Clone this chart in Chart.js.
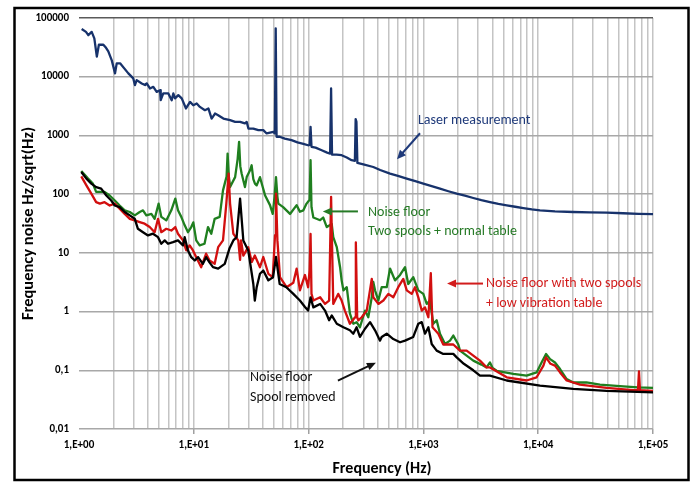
<!DOCTYPE html>
<html lang="en">
<head>
<meta charset="UTF-8">
<title>Frequency noise</title>
<style>
    body {
        margin: 0;
        background: #fff;
    }
    .chart-box {
        position: relative;
        width: 693px;
        height: 483px;
    }
</style>
</head>
<body>
<div class="chart-box"><canvas id="noiseChart"></canvas></div>

<script src="https://cdn.jsdelivr.net/npm/chart.js"></script>
<script>
    // Axis labels (Excel style, comma decimals)
    const xTickLabels = ['1,E+00', '1,E+01', '1,E+02', '1,E+03', '1,E+04', '1,E+05'];
    const yTickLabels = ['0,01', '0,1', '1', '10', '100', '1000', '10000', '100000'];

    // [frequency Hz, noise Hz/sqrt(Hz)]
    const laserData = [
        [1.055, 65000], [1.15, 58000], [1.205, 51000], [1.29, 58000], [1.36, 45000], [1.43, 22000], [1.49, 35000], [1.63, 35000], [1.72, 31000], [1.8, 27000],
        [1.93, 19000], [2.06, 11400], [2.13, 16900], [2.28, 16900], [2.69, 11400], [2.97, 9360], [3.07, 7200], [3.18, 8750], [3.52, 7690], [3.76, 7200],
        [3.89, 7690], [4.15, 6310], [4.44, 6730], [4.75, 5520], [5.08, 5900], [5.15, 3980], [5.42, 5190], [6.0, 5190], [6.42, 3980], [6.63, 5190],
        [6.86, 4270], [7.33, 4850], [7.85, 4270], [8.55, 2880], [9.27, 3730], [9.9, 3270], [10.6, 3500], [11.3, 3060], [12.5, 2690], [13.4, 2880],
        [14.3, 1940], [15.3, 2360], [16.3, 2210], [18.1, 1940], [20.7, 1820], [22.9, 1700], [25.3, 1700], [27.9, 1600], [28.9, 1700], [29.9, 1310],
        [33, 1310], [36.5, 1230], [40.3, 1230], [43.1, 1080], [49.3, 1150], [50.8, 1080], [51.7, 66700], [52.6, 950], [56, 950], [62, 880],
        [71, 830], [80, 760], [90, 720], [99, 680], [102, 690], [104, 1400], [106, 640], [115, 620], [130, 560], [145, 510],
        [154, 490], [157, 6300], [160, 470], [175, 470], [194, 460], [215, 420], [237, 378], [253, 370], [257, 1900], [261, 1700],
        [266, 340], [300, 320], [366, 290], [420, 258], [512, 224], [600, 205], [715, 184], [850, 166], [998, 151], [1180, 137],
        [1395, 124], [1650, 112], [1950, 102], [2300, 94], [2720, 86], [3200, 79], [3800, 73], [4500, 68], [5320, 64.5], [6300, 61],
        [7420, 58], [8800, 55], [10370, 53], [14000, 51], [20200, 49.6], [28000, 49], [39500, 48.3], [55000, 47.3], [75000, 46.3], [100000, 45.5]
    ];

    const normalTableData = [
        [1.047, 248], [1.2, 184], [1.32, 151], [1.41, 109], [1.52, 109], [1.67, 109], [1.85, 95], [2.05, 78], [2.26, 64], [2.5, 53],
        [2.77, 49.6], [3.06, 43.5], [3.38, 49.6], [3.61, 53], [3.86, 43.5], [4.27, 46], [4.56, 38], [4.94, 69], [5.21, 41], [5.76, 35.7],
        [6.37, 53], [6.9, 84], [7.28, 53], [7.78, 41], [8.33, 29.4], [8.9, 22.5], [9.5, 27.5], [9.9, 33], [10.5, 16.3], [11.25, 13.4],
        [12.4, 14.3], [13.3, 27.5], [14.2, 21.2], [15.2, 38], [16.8, 41], [17.96, 116], [18.6, 151], [19.3, 200], [19.7, 490], [20.2, 200],
        [20.7, 132], [22.9, 195], [24.1, 400], [24.8, 775], [25.4, 300], [26.1, 224], [27.9, 132], [28.9, 195], [30.9, 255], [31.9, 310],
        [33, 180], [34.1, 151], [35.3, 141], [37.7, 195], [39.5, 140], [41.7, 96], [46.1, 65], [48.7, 46], [50.5, 90], [52, 195],
        [53.5, 90], [54.5, 69], [60, 60], [68.9, 46], [78.7, 65], [84, 50], [90, 53], [96, 69], [102, 80], [104, 378],
        [106, 60], [110, 40], [126, 36], [134, 40], [144, 27.5], [159, 31], [164, 18.5], [176, 12.5], [188, 5.7], [194, 3.4],
        [201, 2.3], [215, 2.6], [229, 0.93], [245, 0.62], [262, 0.66], [280, 0.54], [310, 1.04], [331, 0.8], [355, 1.75], [366, 3.2],
        [379, 2.3], [405, 1.54], [433, 2.6], [479, 2.6], [512, 5.4], [566, 3.4], [626, 4.2], [692, 5.7], [738, 2.95], [816, 3.85],
        [903, 2.3], [998, 2.0], [1069, 1.35], [1141, 1.54], [1219, 0.62], [1305, 0.71], [1395, 0.42], [1543, 0.28], [1705, 0.32], [1822, 0.39],
        [2014, 0.275], [2083, 0.216], [2720, 0.146], [3200, 0.125], [3550, 0.112], [3800, 0.136], [4000, 0.11], [4345, 0.098], [6070, 0.0865], [7920, 0.081],
        [9690, 0.092], [10700, 0.136], [11700, 0.189], [12700, 0.155], [14000, 0.136], [15500, 0.105], [17700, 0.071], [20200, 0.062], [26300, 0.062], [34500, 0.057],
        [55000, 0.053], [74000, 0.051], [100000, 0.05]
    ];

    const lowVibrationData = [
        [1.047, 201], [1.16, 141], [1.28, 102], [1.41, 73], [1.52, 69], [1.67, 73], [1.85, 64], [2.05, 69], [2.26, 56.5], [2.5, 46],
        [2.77, 38], [3.06, 35.7], [3.38, 33.4], [3.73, 31.4], [4.13, 27.5], [4.56, 22.5], [4.88, 38], [5.21, 22.5], [5.76, 25.7], [6.37, 24],
        [6.9, 27.5], [7.28, 21.2], [8.05, 16.3], [8.6, 11], [9.2, 13.4], [9.84, 11], [10.5, 8.45], [11.6, 5.7], [12.8, 9.7], [13.7, 7.4],
        [15.2, 6.5], [16.3, 12.5], [17.96, 16.3], [19.2, 69], [20.1, 224], [20.7, 69], [22.1, 21.2], [24.4, 16.3], [25.3, 7.6], [25.8, 16.3],
        [27, 9], [29.8, 12.5], [32, 7], [34, 9], [37.7, 5.7], [40.3, 8.5], [44.6, 4.4], [48.7, 3.85], [51, 20], [52, 102],
        [53.5, 16.3], [56.3, 3.85], [64.3, 2.6], [73.6, 3.1], [78.7, 5.4], [84, 2.3], [93, 4.2], [99, 2.6], [102, 5], [104, 21],
        [106, 2.0], [110, 1.54], [126, 1.75], [139, 1.35], [151, 1.54], [157, 90], [164, 1.35], [181, 2.0], [194, 1.54], [207, 1.04],
        [229, 0.62], [254, 0.8], [258, 15], [265, 0.8], [271, 0.71], [290, 0.8], [321, 1.04], [355, 3.6], [366, 1.75], [405, 1.35],
        [448, 1.54], [495, 2.0], [547, 1.75], [604, 2.6], [668, 3.6], [716, 2.3], [791, 2.0], [845, 2.6], [903, 1.75], [967, 1.04],
        [1033, 1.18], [1105, 0.8], [1160, 4.5], [1200, 0.54], [1349, 0.42], [1490, 0.275], [1822, 0.275], [2083, 0.216], [2380, 0.216], [3110, 0.146],
        [3550, 0.112], [3800, 0.112], [5320, 0.076], [7920, 0.067], [9690, 0.076], [11100, 0.12], [11700, 0.166], [12800, 0.129], [14000, 0.12], [15500, 0.092],
        [17700, 0.067], [23100, 0.057], [39500, 0.05], [67300, 0.046], [74000, 0.046], [75500, 0.096], [77000, 0.046], [100000, 0.0447]
    ];

    const spoolRemovedData = [
        [1.047, 238], [1.16, 184], [1.28, 151], [1.41, 132], [1.56, 124], [1.73, 95], [1.91, 78], [2.05, 64], [2.26, 60], [2.5, 49.6],
        [2.77, 43.5], [3.06, 38], [3.26, 25.7], [3.61, 22.5], [3.99, 19.8], [4.41, 21.2], [4.88, 18.5], [5.21, 14.3], [5.58, 16.3], [5.96, 14.3],
        [6.59, 15.2], [7.28, 16.3], [8.05, 13.4], [8.33, 18.5], [8.9, 11], [9.5, 8.45], [10.2, 7.4], [10.9, 8.45], [12.0, 6.5], [12.8, 8.45],
        [13.7, 6.9], [14.7, 5.7], [16.3, 5.4], [18.6, 6.5], [20.5, 12], [22.1, 16.3], [23.6, 18.5], [25.3, 84], [27, 16.3], [29.8, 11],
        [32, 4.4], [33, 2.95], [34, 1.54], [35.3, 2.6], [37.7, 4.4], [40.3, 5], [44.6, 3.4], [49, 3.85], [52, 8.5], [56, 2.95],
        [64, 2.6], [73.6, 2.0], [84, 1.54], [93, 1.2], [99, 1.04], [104, 1.75], [110, 1.18], [126, 1.35], [139, 1.04], [151, 0.71],
        [159, 0.86], [176, 0.62], [201, 0.54], [229, 0.48], [245, 0.42], [262, 0.54], [280, 0.37], [310, 0.51], [343, 0.66], [379, 0.48],
        [419, 0.32], [433, 0.37], [479, 0.42], [547, 0.34], [626, 0.3], [692, 0.32], [816, 0.37], [903, 0.62], [967, 0.66], [1033, 0.42],
        [1105, 0.54], [1181, 0.28], [1305, 0.216], [1490, 0.19], [1822, 0.19], [1950, 0.166], [2250, 0.129], [2720, 0.1], [3110, 0.081], [3800, 0.081],
        [5320, 0.067], [10370, 0.0546], [20200, 0.0484], [39500, 0.0447], [100000, 0.042]
    ];

    // Callouts, anchored in data space (freq, value)
    const notes = [
        { lines: ['Laser measurement'], at: [897, 1820], color: '#1f3a7a', arrow: [[934, 1090], [589, 393]] },
        { lines: ['Noise floor', 'Two spools + normal table'], at: [329, 49], color: '#267a26', arrow: [[269, 50.8], [133, 50.8]] },
        { lines: ['Noise floor with two spools', '+ low vibration table'], at: [3510, 3.0], color: '#d21c1c', arrow: [[3305, 3.0], [1607, 3.0]] },
        { lines: ['Noise floor', 'Spool removed'], at: [30.9, 0.0748], color: '#111111', arrow: [[180, 0.0665], [386, 0.135]] }
    ];

    const FONT = 'Carlito, Lato, sans-serif';
    Chart.defaults.font.family = FONT;
    Chart.defaults.color = '#000';

    function isDecade(v) {
        const k = Math.log10(v);
        return Math.abs(k - Math.round(k)) < 1e-9;
    }

    function toPoints(pairs) {
        return pairs.map(function(p) { return { x: p[0], y: p[1] }; });
    }

    function drawArrow(ctx, x1, y1, x2, y2, color) {
        const a = Math.atan2(y2 - y1, x2 - x1);
        ctx.strokeStyle = color;
        ctx.fillStyle = color;
        ctx.lineWidth = 2;
        ctx.beginPath();
        ctx.moveTo(x1, y1);
        ctx.lineTo(x2 - 6 * Math.cos(a), y2 - 6 * Math.sin(a));
        ctx.stroke();
        ctx.beginPath();
        ctx.moveTo(x2, y2);
        ctx.lineTo(x2 - 9 * Math.cos(a) + 4 * Math.sin(a), y2 - 9 * Math.sin(a) - 4 * Math.cos(a));
        ctx.lineTo(x2 - 9 * Math.cos(a) - 4 * Math.sin(a), y2 - 9 * Math.sin(a) + 4 * Math.cos(a));
        ctx.closePath();
        ctx.fill();
    }

    // Frame, x-axis title and callouts
    const decorPlugin = {
        id: 'decor',
        beforeDraw(chart) {
            const ctx = chart.ctx;
            ctx.save();
            ctx.fillStyle = '#fff';
            ctx.fillRect(0, 0, chart.width, chart.height);
            ctx.restore();
        },
        afterDraw(chart) {
            const ctx = chart.ctx;
            const xs = chart.scales.x;
            const ys = chart.scales.y;
            ctx.save();

            notes.forEach(function(n) {
                const a0 = n.arrow[0], a1 = n.arrow[1];
                drawArrow(ctx, xs.getPixelForValue(a0[0]), ys.getPixelForValue(a0[1]),
                    xs.getPixelForValue(a1[0]), ys.getPixelForValue(a1[1]), n.color);
                ctx.fillStyle = n.color;
                ctx.font = '14px ' + FONT;
                ctx.textAlign = 'left';
                ctx.textBaseline = 'middle';
                const tx = xs.getPixelForValue(n.at[0]);
                const ty = ys.getPixelForValue(n.at[1]);
                n.lines.forEach(function(line, i) {
                    ctx.fillText(line, tx, ty + i * 19.5);
                });
            });

            // x-axis title
            ctx.fillStyle = '#000';
            ctx.font = 'bold 16px ' + FONT;
            ctx.textAlign = 'center';
            ctx.textBaseline = 'middle';
            ctx.fillText('Frequency (Hz)', (xs.left + xs.right) / 2 + 16, 469);

            // outer frame
            ctx.strokeStyle = '#000';
            ctx.lineWidth = 2.5;
            ctx.strokeRect(14.5, 8, 674, 472);
            ctx.restore();
        }
    };

    const ctx = document.getElementById('noiseChart').getContext('2d');
    const noiseChart = new Chart(ctx, {
        type: 'line',
        data: {
            datasets: [
                {
                    label: 'Noise floor, spool removed',
                    data: toPoints(spoolRemovedData),
                    borderColor: '#000000'
                },
                {
                    label: 'Noise floor, two spools + low vibration table',
                    data: toPoints(lowVibrationData),
                    borderColor: '#d20f0f'
                },
                {
                    label: 'Noise floor, two spools + normal table',
                    data: toPoints(normalTableData),
                    borderColor: '#1f7f1f'
                },
                {
                    label: 'Laser measurement',
                    data: toPoints(laserData),
                    borderColor: '#17326b'
                }
            ]
        },
        options: {
            responsive: true,
            maintainAspectRatio: false,
            animation: false,
            devicePixelRatio: 1,
            layout: { padding: { top: 18, right: 40, left: 0, bottom: 0 } },
            elements: {
                point: { radius: 0 },
                line: { borderWidth: 2.3, tension: 0, borderJoinStyle: 'round' }
            },
            plugins: {
                legend: { display: false },
                tooltip: { enabled: false }
            },
            scales: {
                x: {
                    type: 'logarithmic',
                    position: 'bottom',
                    min: 1,
                    max: 100000,
                    afterBuildTicks: function(scale) {
                        const vals = [];
                        for (let k = 0; k < 5; k++) {
                            for (let m = 1; m < 10; m++) vals.push(m * Math.pow(10, k));
                        }
                        vals.push(100000);
                        scale.ticks = vals.map(function(v) { return { value: v }; });
                    },
                    afterFit: function(scale) { scale.height = 54; },
                    ticks: {
                        autoSkip: false,
                        maxRotation: 0,
                        padding: 5,
                        font: { size: 11, weight: 'bold' },
                        callback: function(value) {
                            return isDecade(value) ? xTickLabels[Math.round(Math.log10(value))] : '';
                        }
                    },
                    grid: {
                        lineWidth: 1.5,
                        tickLength: 5,
                        color: function(c) {
                            return c.tick && c.tick.value === 1 ? 'rgba(0,0,0,0)' : '#c4c4c4';
                        },
                        tickColor: function(c) {
                            return c.tick && isDecade(c.tick.value) && c.tick.value !== 1 ? '#a0a0a0' : 'rgba(0,0,0,0)';
                        }
                    },
                    border: { display: false }
                },
                y: {
                    type: 'logarithmic',
                    min: 0.01,
                    max: 100000,
                    afterBuildTicks: function(scale) {
                        scale.ticks = yTickLabels.map(function(t, i) { return { value: Math.pow(10, i - 2) }; });
                    },
                    afterFit: function(scale) { scale.width = 79; },
                    ticks: {
                        padding: 10,
                        font: { size: 11, weight: 'bold' },
                        callback: function(value) {
                            return yTickLabels[Math.round(Math.log10(value)) + 2];
                        }
                    },
                    grid: {
                        drawTicks: false,
                        lineWidth: 1.5,
                        color: function(c) {
                            return c.tick && c.tick.value >= 99999 ? '#5a5a5a' : '#a8a8a8';
                        }
                    },
                    border: { display: false },
                    title: {
                        display: true,
                        text: 'Frequency noise Hz/sqrt(Hz)',
                        font: { size: 16.5, weight: 'bold' },
                        padding: { top: 19, bottom: 0 }
                    }
                }
            }
        },
        plugins: [decorPlugin]
    });
</script>
</body>
</html>
